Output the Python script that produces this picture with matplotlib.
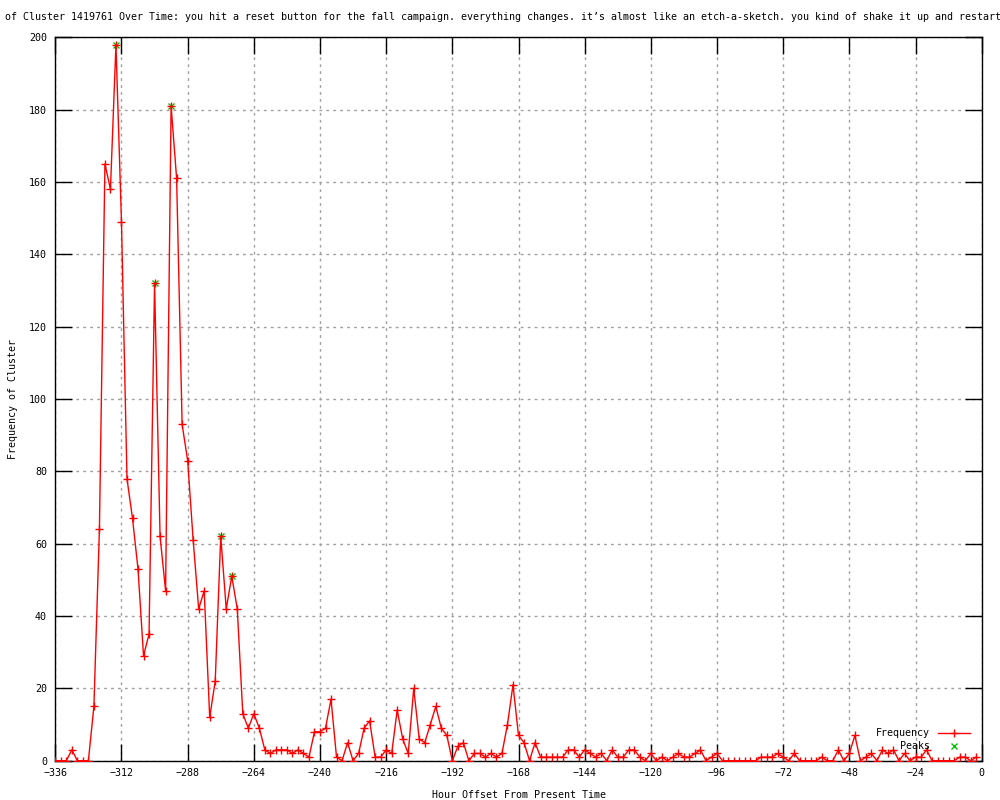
import numpy as np
import matplotlib
matplotlib.use("Agg")
import matplotlib.pyplot as plt

# hourly offsets (every 2 hours) and cluster frequency
hours = np.arange(-336, 0, 2)
freq = [
    0, 0, 0, 3, 0, 0, 0, 15, 64, 165, 158, 198, 149, 78, 67, 53, 29, 35, 132, 62,
    47, 181, 161, 93, 83, 61, 42, 47, 12, 22, 62, 42, 51, 42, 13, 9, 13, 9, 3, 2,
    3, 3, 3, 2, 3, 2, 1, 8, 8, 9, 17, 1, 0, 5, 0, 2, 9, 11, 1, 1,
    3, 2, 14, 6, 2, 20, 6, 5, 10, 15, 9, 7, 0, 4, 5, 0, 2, 2, 1, 2,
    1, 2, 10, 21, 7, 5, 0, 5, 1, 1, 1, 1, 1, 3, 3, 1, 3, 2, 1, 2,
    0, 3, 1, 1, 3, 3, 1, 0, 2, 0, 1, 0, 1, 2, 1, 1, 2, 3, 0, 1,
    2, 0, 0, 0, 0, 0, 0, 0, 1, 1, 1, 2, 1, 0, 2, 0, 0, 0, 0, 1,
    0, 0, 3, 0, 2, 7, 0, 1, 2, 0, 3, 2, 3, 0, 2, 0, 1, 1, 3, 0,
    0, 0, 0, 0, 1, 1, 0, 1,
]
peak_hours = [-314, -300, -294, -276, -272]

title = ("of Cluster 1419761 Over Time: you hit a reset button for the fall campaign. "
         "everything changes. it\u2019s almost like an etch-a-sketch. you kind of shake it up and restart")

plt.rcParams["font.family"] = ["DejaVu Sans Mono"]
plt.rcParams["font.size"] = 7.2

fig = plt.figure(figsize=(10, 8), dpi=100)
ax = fig.add_axes([0.0553, 0.0491, 0.9264, 0.9042])

peak_vals = [freq[int((h + 336) // 2)] for h in peak_hours]
ax.plot(peak_hours, peak_vals, linestyle="none", marker="x", color="#00c000",
        markersize=5, markeredgewidth=1, label="Peaks", zorder=2)
ax.plot(hours, freq, color="#ff0000", linewidth=1, marker="+", markersize=5.5,
        markeredgewidth=1, label="Frequency", zorder=3)

ax.set_xlim(-336, 0)
ax.set_ylim(0, 200)
ax.set_xticks(np.arange(-336, 1, 24))
ax.set_yticks(np.arange(0, 201, 20))
ax.tick_params(direction="in", length=12, width=1, top=True, right=True,
               labelsize=7.2, color="black")
ax.tick_params(axis="x", pad=5)
ax.tick_params(axis="y", pad=6)
ax.grid(True, color="#a0a0a0", linestyle=(0, (2, 3)), linewidth=1)
for s in ax.spines.values():
    s.set_linewidth(1)

ax.set_xlabel("Hour Offset From Present Time", fontsize=7.2)
ax.set_ylabel("Frequency of Cluster", fontsize=7.2)
ax.xaxis.set_label_coords(0.5, -0.041)
ax.yaxis.set_label_coords(-0.040, 0.5)

handles, labels = ax.get_legend_handles_labels()
ax.legend(handles[::-1], labels[::-1], loc="lower right",
          bbox_to_anchor=(0.993, 0.006), frameon=False, markerfirst=False,
          handlelength=3.2, handletextpad=0.8, labelspacing=0.3, borderpad=0,
          fontsize=7.2)

fig.text(0.503, 0.979, title, ha="center", va="center", fontsize=7.2)

fig.savefig("out.png", dpi=100)
